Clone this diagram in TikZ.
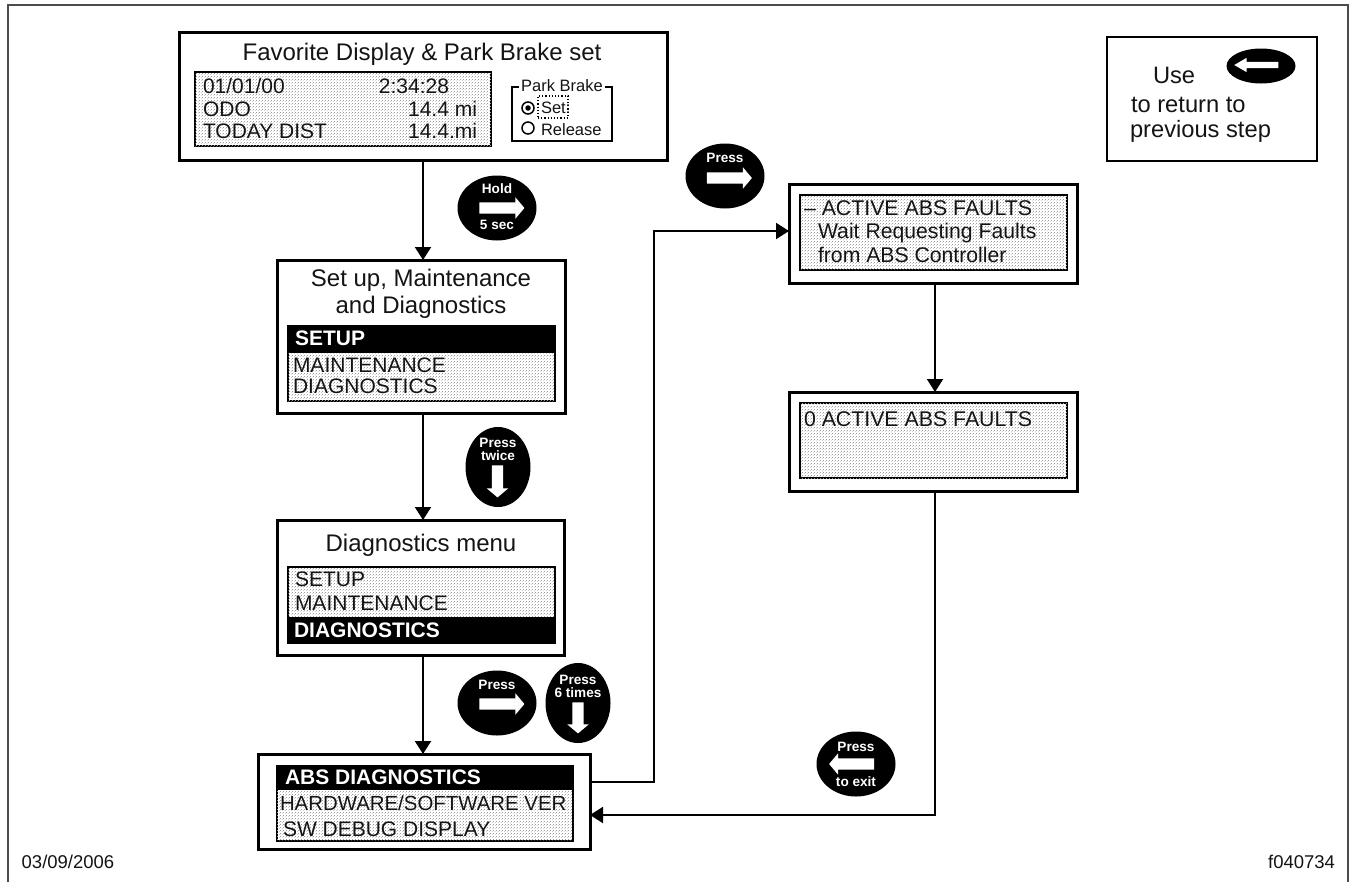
\documentclass[tikz,border=0pt]{standalone}
\usepackage{fontspec}
\setmainfont{Liberation Sans}
\usetikzlibrary{arrows.meta,patterns,shapes.arrows,shapes.geometric}
\pgfdeclarepatternformonly{stip}{\pgfqpoint{0bp}{0bp}}{\pgfqpoint{3bp}{3bp}}{\pgfqpoint{3bp}{3bp}}{%
  \pgfpathrectangle{\pgfqpoint{0bp}{0bp}}{\pgfqpoint{0.85bp}{0.85bp}}%
  \pgfpathrectangle{\pgfqpoint{1.5bp}{1.5bp}}{\pgfqpoint{0.85bp}{0.85bp}}%
  \pgfusepath{fill}}
\definecolor{ink}{gray}{0.08}
\definecolor{stipc}{gray}{0.62}
\newcommand{\fs}[1]{\fontsize{#1bp}{#1bp}\selectfont}
% [style]{name}{x1}{y1}{x2}{y2}
\newcommand{\rectnode}[6][]{%
  \pgfmathsetmacro{\rcx}{(#3+#5)/2}\pgfmathsetmacro{\rcy}{(#4+#6)/2}%
  \pgfmathsetmacro{\rw}{#5-#3}\pgfmathsetmacro{\rh}{#6-#4}%
  \node[rectangle,outer sep=0pt,inner sep=0pt,minimum width=\rw bp,minimum height=\rh bp,#1] (#2) at (\rcx,\rcy) {};}
\tikzset{
  outerbox/.style={draw=black,line width=3bp,fill=white},
  display/.style={draw=black,line width=2.5bp,fill=white,postaction={pattern=stip,pattern color=stipc}},
  hilite/.style={fill=black,draw=black,line width=1bp},
  legendbox/.style={draw=black,line width=1.8bp,fill=white},
  parkbox/.style={draw=black,line width=1.8bp,fill=white},
  frameline/.style={draw={black!70},line width=2bp},
  conn/.style={draw=black,line width=2bp,-{Triangle[length=13bp,width=16bp]}},
  txt/.style={anchor=base west,inner sep=0pt,outer sep=0pt,text=ink},
  txtr/.style={anchor=base east,inner sep=0pt,outer sep=0pt,text=ink},
  txtc/.style={anchor=base,inner sep=0pt,outer sep=0pt,text=ink},
  title/.style={txtc,font=\fs{24}},
  disp/.style={txt,font=\fs{21}},
  dispr/.style={txtr,font=\fs{21}},
  disphi/.style={txt,text=white,font=\fs{21}\bfseries},
  wide/.style={ellipse,fill=black,inner sep=0pt,minimum width=79bp,minimum height=65bp},
  tall/.style={ellipse,fill=black,inner sep=0pt,minimum width=65bp,minimum height=80bp},
  keytxt/.style={anchor=base,inner sep=0pt,outer sep=0pt,text=white,font=\fs{13.6}\bfseries},
  keyarrow/.style={single arrow,fill=white,inner sep=5.5bp,minimum width=21bp,minimum height=45bp,
    single arrow head extend=5bp,single arrow tip angle=100,single arrow head indent=0bp,shape border rotate=#1},
  radio/.style={circle,draw=black,line width=1.5bp,fill=white,inner sep=0pt,minimum size=12bp},
}
\begin{document}
\begin{tikzpicture}[x=1bp,y=-1bp]
\useasboundingbox (0,0) rectangle (1353,882);
% frame
\coordinate (fa) at (7.5,882); \coordinate (fb) at (7.5,5); \coordinate (fc) at (1347.5,5); \coordinate (fd) at (1347.5,882);
\draw[frameline] (fa) -- (fb) -- (fc) -- (fd);
% boxes
\rectnode[outerbox]{box1}{179}{33}{667}{160}
\rectnode[display]{disp1}{195}{72}{491}{146}
\rectnode[parkbox]{park}{512}{87}{612}{141}
\rectnode[outerbox]{box2}{277}{260}{565}{413}
\rectnode[display]{disp2}{288}{326}{555}{401}
\rectnode[hilite]{bar2}{288}{326}{555}{352}
\rectnode[outerbox]{box3}{277}{520}{564}{655}
\rectnode[display]{disp3}{288}{567}{555}{643}
\rectnode[hilite]{bar3}{288}{617}{555}{643}
\rectnode[outerbox]{box4}{258}{754}{590}{849}
\rectnode[display]{disp4}{277}{766}{573}{841}
\rectnode[hilite]{bar4}{277}{766}{573}{789}
\rectnode[outerbox]{box5}{789}{184}{1077}{283}
\rectnode[display]{disp5}{800}{195}{1067}{270}
\rectnode[outerbox]{box6}{789}{392}{1077}{491}
\rectnode[display]{disp6}{800}{403}{1067}{478}
\rectnode[legendbox]{legend}{1107}{37}{1317}{161}
% connectors
\coordinate (spine) at (423,0);
\coordinate (spineb) at (935,0);
\coordinate (up1) at (654,782);
\coordinate (up2) at (654,231);
\coordinate (back) at (935,815);
\draw[conn] (spine |- box1.south) -- (spine |- box2.north);
\draw[conn] (spine |- box2.south) -- (spine |- box3.north);
\draw[conn] (spine |- box3.south) -- (spine |- box4.north);
\draw[conn] (up1 -| box4.east) -- (up1) -- (up2) -- (up2 -| box5.west);
\draw[conn] (spineb |- box5.south) -- (spineb |- box6.north);
\draw[conn] (spineb |- box6.south) -- (back) -- (back -| box4.east);
% box 1 text
\node[title] (t1) at (422,60) {Favorite Display \& Park Brake set};
\node[disp] (d11) at (203,93) {01/01/00};
\node[dispr] (d12) at (449,93) {2:34:28};
\node[disp] (d13) at (203,116) {ODO};
\node[dispr] (d14) at (477,116) {14.4 mi};
\node[disp] (d15) at (203,138) {TODAY DIST};
\node[dispr] (d16) at (477,138) {14.4.mi};
% park brake
\node[anchor=base west,fill=white,inner xsep=2bp,inner ysep=2bp,text=ink,font=\fs{16.5}] (pt) at (519,91) {Park Brake};
\node[rectangle,draw=black,dotted,line width=1.2bp,minimum width=30bp,minimum height=22bp,inner sep=0pt] (setbox) at (553,107) {};
\node[txt,font=\fs{16.5}] (pset) at (541,113) {Set:};
\node[txt,font=\fs{16.5}] (prel) at (541,135) {Release};
\node[radio] (r1) at (528,108) {};
\node[circle,fill=black,inner sep=0pt,minimum size=5.5bp] (r1d) at (r1.center) {};
\node[radio] (r2) at (528,128) {};
% box 2 text
\node[title] (t2a) at (421,286) {Set up, Maintenance};
\node[title] (t2b) at (421,313) {and Diagnostics};
\node[disphi] (d21) at (295,345) {SETUP};
\node[disp] (d22) at (293,372) {MAINTENANCE};
\node[disp] (d23) at (293,393) {DIAGNOSTICS};
% box 3 text
\node[title] (t3) at (421,551) {Diagnostics menu};
\node[disp] (d31) at (295,586) {SETUP};
\node[disp] (d32) at (295,610) {MAINTENANCE};
\node[disphi] (d33) at (294,637) {DIAGNOSTICS};
% box 4 text
\node[disphi] (d41) at (285,784) {ABS DIAGNOSTICS};
\node[txt,font=\fs{20.4}] (d42) at (280,810) {HARDWARE/SOFTWARE VER};
\node[disp] (d43) at (283,836) {SW DEBUG DISPLAY};
% box 5/6 text
\node[txt,font=\fs{21.3}] (d51) at (804,215) {– ACTIVE ABS FAULTS};
\node[txt,font=\fs{21.2}] (d52) at (818,238) {Wait Requesting Faults};
\node[txt,font=\fs{21.2}] (d53) at (818,262) {from ABS Controller};
\node[txt,font=\fs{21.3}] (d61) at (804,426) {0 ACTIVE ABS FAULTS};
% legend
\node[txt,font=\fs{23.7}] (l1) at (1153,83) {Use};
\node[txt,font=\fs{23.7}] (l2) at (1131,112) {to return to};
\node[txt,font=\fs{23.7}] (l3) at (1130,137) {previous step};
% keys
\node[wide] (k1) at (497,208) {};
\node[keytxt] (k1a) at (497,193) {Hold};
\node[keytxt] (k1b) at (497,229) {5 sec};
\node[keyarrow=0] (k1c) at (499.5,208) {};
\node[tall] (k2) at (498,467) {};
\node[keytxt] (k2a) at (498,447) {Press};
\node[keytxt] (k2b) at (498,460) {twice};
\node[keyarrow=270,minimum height=32bp] (k2c) at (497.5,479) {};
\node[wide] (k3) at (497,703) {};
\node[keytxt] (k3a) at (497,689) {Press};
\node[keyarrow=0] (k3c) at (499.5,704) {};
\node[tall] (k4) at (578,703) {};
\node[keytxt] (k4a) at (578,684) {Press};
\node[keytxt] (k4b) at (578,697) {6 times};
\node[keyarrow=270,minimum height=31bp] (k4c) at (578,715.5) {};
\node[wide] (k5) at (725,176) {};
\node[keytxt] (k5a) at (725,162) {Press};
\node[keyarrow=0] (k5c) at (727,178) {};
\node[wide] (k6) at (856,764) {};
\node[keytxt] (k6a) at (856,751) {Press};
\node[keytxt] (k6b) at (856,786) {to exit};
\node[keyarrow=180] (k6c) at (854,764) {};
\node[ellipse,fill=black,inner sep=0pt,minimum width=69bp,minimum height=35bp] (k7) at (1261,66) {};
\node[single arrow,fill=white,inner sep=3bp,minimum width=14bp,minimum height=44bp,single arrow head extend=4bp,single arrow tip angle=60,single arrow head indent=0bp,shape border rotate=180] (k7c) at (1259,65) {};
% footer
\node[txt,font=\fs{18.5}] (date) at (21.7,868) {03/09/2006};
\node[txtr,font=\fs{18.5}] (fig) at (1335,868) {f040734};
\end{tikzpicture}
\end{document}
